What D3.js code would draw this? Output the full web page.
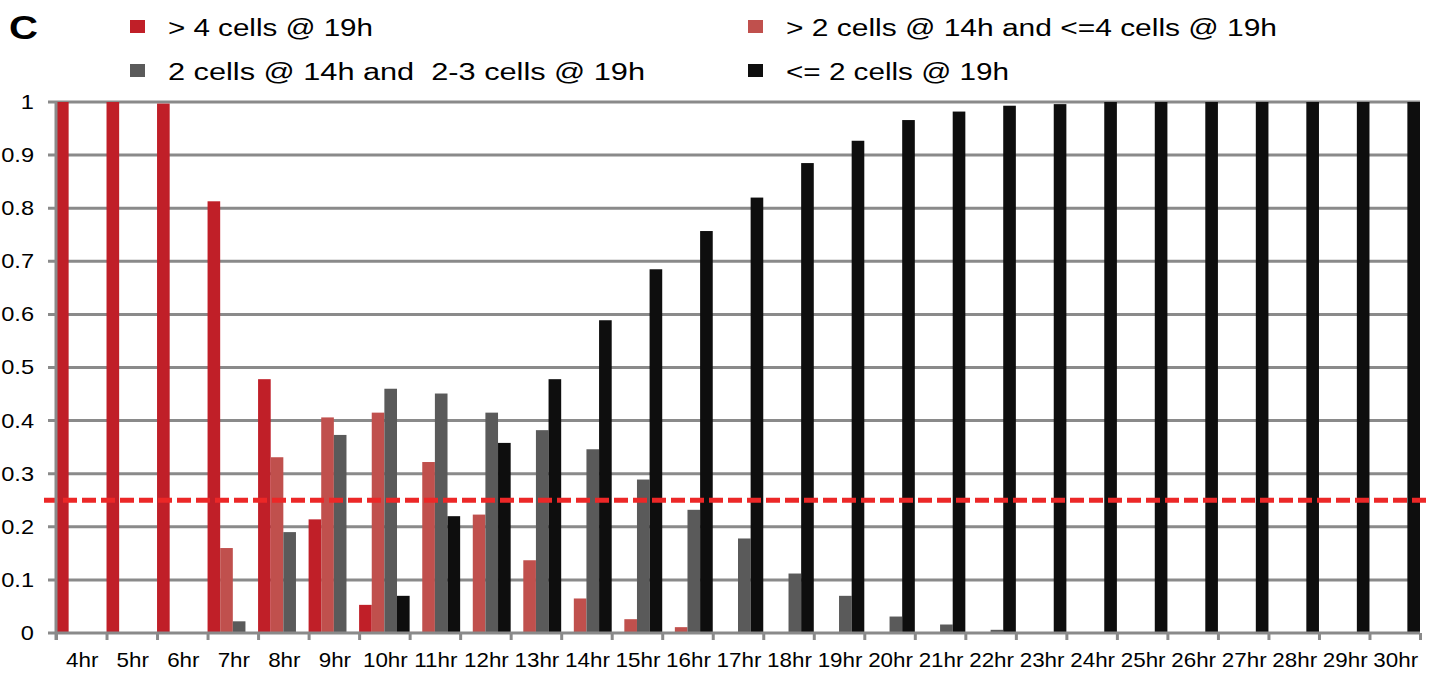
<!DOCTYPE html>
<html>
<head>
<meta charset="utf-8">
<script src="https://cdn.jsdelivr.net/npm/d3@7"></script>
<style>
  body { margin: 0; background: #fff; }
  text { font-family: "Liberation Sans", Arial, sans-serif; fill: #000; }
</style>
</head>
<body>
<div id="chart"></div>
<script>
// categories along x
const hours = ["4hr","5hr","6hr","7hr","8hr","9hr","10hr","11hr","12hr","13hr","14hr","15hr","16hr",
  "17hr","18hr","19hr","20hr","21hr","22hr","23hr","24hr","25hr","26hr","27hr","28hr","29hr","30hr"]

const seriesNames = [
  "> 4 cells @ 19h",
  "> 2 cells @ 14h and <=4 cells @ 19h",
  "2 cells @ 14h and  2-3 cells @ 19h",
  "<= 2 cells @ 19h"
]

// values
const over4 = [1, 1, 0.997, 0.813, 0.478, 0.214, 0.053, 0.002, 0, 0, 0, 0, 0,
  0, 0, 0, 0, 0, 0, 0, 0, 0, 0, 0, 0, 0, 0]
const over2 = [0, 0, 0, 0.160, 0.331, 0.406, 0.415, 0.322, 0.223, 0.137, 0.065, 0.026, 0.011,
  0, 0, 0, 0, 0, 0, 0, 0, 0, 0, 0, 0, 0, 0]
const two23 = [0, 0, 0, 0.022, 0.190, 0.373, 0.460, 0.451, 0.415, 0.382, 0.346, 0.289, 0.232,
  0.178, 0.112, 0.070, 0.031, 0.016, 0.006, 0, 0, 0, 0, 0, 0, 0, 0]
const le2 = [0, 0, 0, 0, 0, 0.002, 0.070, 0.220, 0.358, 0.478, 0.589, 0.685, 0.757,
  0.820, 0.885, 0.927, 0.966, 0.982, 0.993, 0.996, 1, 1, 1, 1, 1, 1, 1]

const yTicks = [0, 0.1, 0.2, 0.3, 0.4, 0.5, 0.6, 0.7, 0.8, 0.9, 1]
const threshold = 0.25

const colors = ["#c01f28", "#c0504d", "#5a5a5a", "#0e0e0e"]
const allSeries = [over4, over2, two23, le2]

const W = 1434, H = 673
const LEFT = 56, RIGHT = 1420, TOP = 102, BOTTOM = 633
const GRID = "#8a8a8a"

const svg = d3.select("#chart").append("svg")
  .attr("width", W)
  .attr("height", H)

const x0 = d3.scaleBand().domain(hours).range([LEFT, RIGHT]).padding(0)
const x1 = d3.scaleBand().domain(d3.range(4)).range([0, x0.bandwidth()]).padding(0)
const y = d3.scaleLinear().domain([0, 1]).range([BOTTOM, TOP])

// grid lines (also serve as the little left ticks)
svg.append("g").selectAll("line")
  .data(yTicks.filter(d => d > 0))
  .enter().append("line")
    .attr("x1", LEFT - 8)
    .attr("x2", RIGHT)
    .attr("y1", d => y(d))
    .attr("y2", d => y(d))
    .attr("stroke", GRID)
    .attr("stroke-width", 3)

// bars
const rows = hours.map((h, i) => ({ h, vals: allSeries.map(s => s[i]) }))
const groups = svg.append("g").selectAll("g")
  .data(rows)
  .enter().append("g")
    .attr("transform", d => `translate(${x0(d.h)},0)`)

groups.selectAll("rect")
  .data(d => d.vals.map((v, k) => ({ v, k })))
  .enter().append("rect")
    .filter(d => d.v > 0)
    .attr("x", d => x1(d.k))
    .attr("width", x1.bandwidth())
    .attr("y", d => y(d.v))
    .attr("height", d => BOTTOM - y(d.v))
    .attr("fill", d => colors[d.k])

// dashed threshold line
svg.append("line")
  .attr("x1", 44)
  .attr("x2", 1426)
  .attr("y1", y(threshold))
  .attr("y2", y(threshold))
  .attr("stroke", "#ec2727")
  .attr("stroke-width", 5)
  .attr("stroke-dasharray", "14 5")

// y axis
const yAxis = svg.append("g")
  .attr("transform", `translate(${LEFT},0)`)
  .call(d3.axisLeft(y).tickValues(yTicks).tickFormat(d3.format("")).tickSize(0))
yAxis.select(".domain").attr("stroke", GRID).attr("stroke-width", 3)
  .attr("d", `M0,${TOP - 1}V${BOTTOM + 7}`)
yAxis.selectAll("text")
  .attr("x", 0)
  .attr("transform", "translate(-22,0) scale(1.18,1)")
  .style("font-size", "20px")
  .attr("fill", "#000")

// x axis: boundary ticks
const xb = d3.scaleLinear().domain([0, hours.length]).range([LEFT, RIGHT])
const xTickAxis = svg.append("g")
  .attr("transform", `translate(0,${BOTTOM})`)
  .call(d3.axisBottom(xb).ticks(hours.length).tickFormat("").tickSize(7).tickSizeOuter(0))
xTickAxis.select(".domain").attr("stroke", GRID).attr("stroke-width", 3)
  .attr("d", `M${LEFT - 8},0H${RIGHT}`)
xTickAxis.selectAll(".tick line").attr("stroke", GRID).attr("stroke-width", 3)

// x axis labels
const xLab = svg.append("g")
  .attr("transform", `translate(0,${BOTTOM})`)
  .call(d3.axisBottom(x0).tickSize(0).tickPadding(0))
xLab.select(".domain").remove()
xLab.selectAll("text")
  .attr("y", 0)
  .attr("dy", 0)
  .attr("transform", "translate(1,34) scale(1.12,1)")
  .style("font-size", "20px")
  .attr("fill", "#000")

// panel letter
svg.append("text")
  .attr("x", 9)
  .attr("y", 39)
  .attr("textLength", 29)
  .attr("lengthAdjust", "spacingAndGlyphs")
  .style("font-size", "34px")
  .style("font-weight", "bold")
  .text("C")

// legend
const legendPos = [
  { x: 130, y: 27, w: 205 },
  { x: 748, y: 27, w: 491 },
  { x: 130, y: 71, w: 477 },
  { x: 748, y: 71, w: 223 }
]
const leg = svg.append("g").selectAll("g")
  .data(seriesNames)
  .enter().append("g")
    .attr("transform", (d, i) => `translate(${legendPos[i].x},${legendPos[i].y})`)
leg.append("rect")
  .attr("x", 0).attr("y", -7)
  .attr("width", 15).attr("height", 13)
  .attr("fill", (d, i) => colors[i])
leg.append("text")
  .attr("x", 38)
  .attr("y", 8.5)
  .attr("textLength", (d, i) => legendPos[i].w)
  .attr("lengthAdjust", "spacingAndGlyphs")
  .style("font-size", "23px")
  .style("white-space", "pre")
  .text(d => d)
</script>
</body>
</html>
